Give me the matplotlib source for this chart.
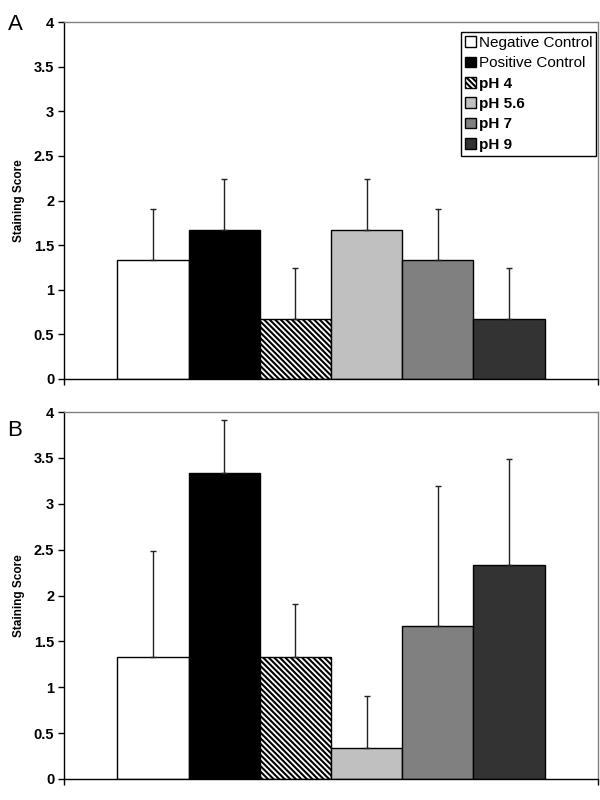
"""Staining score by treatment, panels A and B."""
import matplotlib.pyplot as plt

plt.rcParams['font.family'] = ['Liberation Sans', 'DejaVu Sans']
plt.rcParams['hatch.linewidth'] = 1.5

groups = ['Negative Control', 'Positive Control', 'pH 4', 'pH 5.6', 'pH 7', 'pH 9']
colors = ['#FFFFFF', '#000000', '#FFFFFF', '#C0C0C0', '#808080', '#333333']
hatches = [None, None, '\\\\\\\\\\\\', None, None, None]

# Panel A
scores_a = [1.333, 1.667, 0.667, 1.667, 1.333, 0.667]
errors_a = [0.577, 0.577, 0.577, 0.577, 0.577, 0.577]

# Panel B
scores_b = [1.333, 3.333, 1.333, 0.333, 1.667, 2.333]
errors_b = [1.155, 0.577, 0.577, 0.577, 1.528, 1.155]

fig = plt.figure(figsize=(6, 8), dpi=100)
ax_a = fig.add_axes([0.1067, 0.52625, 0.89, 0.44625])
ax_b = fig.add_axes([0.1067, 0.02625, 0.89, 0.45875])


def draw_panel(ax, scores, errors):
    xs = [1.25 + i for i in range(len(scores))]
    for x, s, c, h, lab in zip(xs, scores, colors, hatches, groups):
        ax.bar(x, s, width=1.0, color=c, edgecolor='black', linewidth=1.0,
               hatch=h, label=lab, zorder=2)
    ax.errorbar(xs, scores, yerr=[[0] * len(errors), errors], fmt='none',
                ecolor='#222222', elinewidth=1.0, capsize=2, capthick=1.0, zorder=3)
    ax.set_xlim(0, 7.5)
    ax.set_ylim(0, 4)
    ax.set_yticks([0, 0.5, 1, 1.5, 2, 2.5, 3, 3.5, 4])
    ax.set_yticklabels(['0', '0.5', '1', '1.5', '2', '2.5', '3', '3.5', '4'],
                       fontsize=10.5, fontweight='bold')
    ax.set_xticks([0, 7.5])
    ax.set_xticklabels([])
    ax.tick_params(axis='both', direction='out', length=4, width=1, pad=3)
    ax.set_ylabel('Staining Score', fontsize=8.5, fontweight='bold', labelpad=6)
    ax.spines['left'].set_color('black')
    ax.spines['bottom'].set_color('black')
    ax.spines['top'].set_color('#808080')
    ax.spines['right'].set_color('#808080')
    for sp in ax.spines.values():
        sp.set_linewidth(1.0)


draw_panel(ax_a, scores_a, errors_a)
draw_panel(ax_b, scores_b, errors_b)

leg = ax_a.legend(loc='upper right', bbox_to_anchor=(0.996, 0.972), fontsize=11,
                  frameon=True, fancybox=False, edgecolor='black', framealpha=1,
                  handlelength=0.7, handleheight=0.7, handletextpad=0.2,
                  labelspacing=0.42, borderpad=0.25, borderaxespad=0)
leg.get_frame().set_linewidth(1.0)
for t in leg.get_texts()[2:]:
    t.set_fontweight('bold')

fig.text(15 / 600, 1 - 25 / 800, 'A', fontsize=16, ha='center', va='center')
fig.text(15 / 600, 1 - 431 / 800, 'B', fontsize=16, ha='center', va='center')

plt.savefig('out.png', dpi=100)
print("Saved out.png")
